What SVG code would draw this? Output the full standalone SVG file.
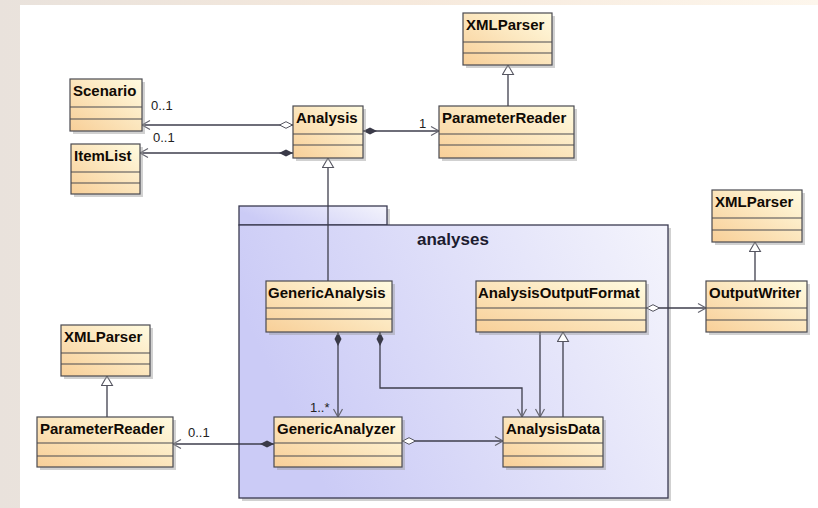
<svg xmlns="http://www.w3.org/2000/svg" width="818" height="508" viewBox="0 0 818 508">
<defs>
<linearGradient id="bg" x1="0" y1="0" x2="1" y2="0">
<stop offset="0" stop-color="#e9e2dc"/><stop offset="0.5" stop-color="#f6e9dc"/><stop offset="1" stop-color="#fdf6ec"/>
</linearGradient>
<linearGradient id="nodeFill" x1="0" y1="1" x2="1" y2="0">
<stop offset="0" stop-color="#f8cf98"/><stop offset="1" stop-color="#fffbe0"/>
</linearGradient>
<linearGradient id="pkgFill" x1="0" y1="0.3" x2="1" y2="0">
<stop offset="0" stop-color="#cbcbf6"/><stop offset="1" stop-color="#f4f4fc"/>
</linearGradient>
<marker id="fdia" markerWidth="16" markerHeight="10" refX="0" refY="5" orient="auto" markerUnits="userSpaceOnUse">
<path d="M0,5 L7,1.5 L14,5 L7,8.5 Z" fill="#3a3a48"/>
</marker>
<marker id="odia" markerWidth="16" markerHeight="10" refX="0" refY="5" orient="auto" markerUnits="userSpaceOnUse">
<path d="M0.5,5 L7,1.7 L13.5,5 L7,8.3 Z" fill="#ffffff" stroke="#555560" stroke-width="1"/>
</marker>
<marker id="arr" markerWidth="12" markerHeight="12" refX="10" refY="6" orient="auto" markerUnits="userSpaceOnUse">
<path d="M2,1.5 L10,6 L2,10.5" fill="none" stroke="#666670" stroke-width="1.2"/>
</marker>
<marker id="tri" markerWidth="14" markerHeight="14" refX="10" refY="6" orient="auto" markerUnits="userSpaceOnUse">
<path d="M10,6 L0.5,0.5 L0.5,11.5 Z" fill="#ffffff" stroke="#555560" stroke-width="1.1"/>
</marker>
</defs>
<style>
.box{fill:url(#nodeFill);stroke:#4a4a50;stroke-width:1.2}
.sh{fill:#9a9a9a;opacity:0.45}
.sep{stroke:#4a4a50;stroke-width:1.1}
.name{font-family:"Liberation Sans",Arial,sans-serif;font-weight:bold;font-size:15px;fill:#100a04}
.mult{font-family:"Liberation Sans",Arial,sans-serif;font-size:13px;fill:#222}
.conn{fill:none;stroke:#3e3e4c;stroke-width:1.3}
.pkg{fill:url(#pkgFill);stroke:#3a3a50;stroke-width:1.3}
</style>
<rect x="0" y="0" width="818" height="508" fill="url(#bg)"/>
<rect x="20" y="5" width="798" height="503" fill="#ffffff"/>

<g id="pkg-analyses">
<rect x="242" y="209" width="148" height="19" class="sh"/>
<rect x="242" y="228" width="429" height="273" class="sh"/>
<rect x="239" y="206" width="148" height="19" class="pkg"/>
<rect x="239" y="225" width="429" height="273" class="pkg"/>
<text x="417" y="245" font-family="'Liberation Sans',Arial,sans-serif" font-weight="bold" font-size="17" fill="#1c1c30">analyses</text>
</g>

<g id="connectors">
<path class="conn" d="M293,125 L142,125" marker-start="url(#odia)" marker-end="url(#arr)"/>
<path class="conn" d="M293,153 L140,153" marker-start="url(#fdia)" marker-end="url(#arr)"/>
<path class="conn" d="M363,131 L439,131" marker-start="url(#fdia)" marker-end="url(#arr)"/>
<path class="conn" d="M508,106 L508,65" marker-end="url(#tri)"/>
<path class="conn" d="M328,281 L328,158" marker-end="url(#tri)"/>
<path class="conn" d="M755,281 L755,242" marker-end="url(#tri)"/>
<path class="conn" d="M646,308 L706,308" marker-start="url(#odia)" marker-end="url(#arr)"/>
<path class="conn" d="M338,332 L338,417" marker-start="url(#fdia)" marker-end="url(#arr)"/>
<path class="conn" d="M380,332 L380,388 L522,388 L522,417" marker-start="url(#fdia)" marker-end="url(#arr)"/>
<path class="conn" d="M540,332 L540,417" marker-end="url(#arr)"/>
<path class="conn" d="M563,417 L563,332" marker-end="url(#tri)"/>
<path class="conn" d="M402,441 L503,441" marker-start="url(#odia)" marker-end="url(#arr)"/>
<path class="conn" d="M274,444 L173,444" marker-start="url(#fdia)" marker-end="url(#arr)"/>
<path class="conn" d="M107,417 L107,376" marker-end="url(#tri)"/>
<text class="mult" x="151" y="110">0..1</text>
<text class="mult" x="153" y="142">0..1</text>
<text class="mult" x="419" y="128">1</text>
<text class="mult" x="310" y="412">1..*</text>
<text class="mult" x="188" y="437">0..1</text>
</g>

<g id="scenario">
<rect x="73" y="82" width="72" height="52" class="sh"/>
<rect x="70" y="79" width="72" height="52" class="box"/>
<line x1="70" y1="107" x2="142" y2="107" class="sep"/><line x1="70" y1="119" x2="142" y2="119" class="sep"/>
<text x="73" y="96" class="name">Scenario</text>
</g>
<g id="itemlist">
<rect x="74" y="147" width="69" height="50" class="sh"/>
<rect x="71" y="144" width="69" height="50" class="box"/>
<line x1="71" y1="172" x2="140" y2="172" class="sep"/><line x1="71" y1="183" x2="140" y2="183" class="sep"/>
<text x="74" y="161" class="name">ItemList</text>
</g>
<g id="analysis">
<rect x="296" y="109" width="70" height="52" class="sh"/>
<rect x="293" y="106" width="70" height="52" class="box"/>
<line x1="293" y1="134" x2="363" y2="134" class="sep"/><line x1="293" y1="145" x2="363" y2="145" class="sep"/>
<text x="296" y="123" class="name">Analysis</text>
</g>
<g id="xmlparser-top">
<rect x="466" y="16" width="89" height="52" class="sh"/>
<rect x="463" y="13" width="89" height="52" class="box"/>
<line x1="463" y1="42" x2="552" y2="42" class="sep"/><line x1="463" y1="53" x2="552" y2="53" class="sep"/>
<text x="466" y="30" class="name">XMLParser</text>
</g>
<g id="parameterreader-top">
<rect x="442" y="109" width="135" height="52" class="sh"/>
<rect x="439" y="106" width="135" height="52" class="box"/>
<line x1="439" y1="134" x2="574" y2="134" class="sep"/><line x1="439" y1="145" x2="574" y2="145" class="sep"/>
<text x="442" y="123" class="name">ParameterReader</text>
</g>
<g id="xmlparser-right">
<rect x="715" y="193" width="90" height="52" class="sh"/>
<rect x="712" y="190" width="90" height="52" class="box"/>
<line x1="712" y1="218" x2="802" y2="218" class="sep"/><line x1="712" y1="230" x2="802" y2="230" class="sep"/>
<text x="715" y="207" class="name">XMLParser</text>
</g>
<g id="outputwriter">
<rect x="709" y="284" width="101" height="51" class="sh"/>
<rect x="706" y="281" width="101" height="51" class="box"/>
<line x1="706" y1="308" x2="807" y2="308" class="sep"/><line x1="706" y1="320" x2="807" y2="320" class="sep"/>
<text x="709" y="298" class="name">OutputWriter</text>
</g>
<g id="genericanalysis">
<rect x="269" y="284" width="126" height="51" class="sh"/>
<rect x="266" y="281" width="126" height="51" class="box"/>
<line x1="266" y1="308" x2="392" y2="308" class="sep"/><line x1="266" y1="319" x2="392" y2="319" class="sep"/>
<text x="268" y="298" class="name">GenericAnalysis</text>
</g>
<g id="analysisoutputformat">
<rect x="479" y="284" width="170" height="51" class="sh"/>
<rect x="476" y="281" width="170" height="51" class="box"/>
<line x1="476" y1="308" x2="646" y2="308" class="sep"/><line x1="476" y1="320" x2="646" y2="320" class="sep"/>
<text x="478" y="298" class="name">AnalysisOutputFormat</text>
</g>
<g id="xmlparser-left">
<rect x="64" y="328" width="89" height="51" class="sh"/>
<rect x="61" y="325" width="89" height="51" class="box"/>
<line x1="61" y1="353" x2="150" y2="353" class="sep"/><line x1="61" y1="364" x2="150" y2="364" class="sep"/>
<text x="64" y="342" class="name">XMLParser</text>
</g>
<g id="parameterreader-bottom">
<rect x="40" y="420" width="136" height="50" class="sh"/>
<rect x="37" y="417" width="136" height="50" class="box"/>
<line x1="37" y1="443" x2="173" y2="443" class="sep"/><line x1="37" y1="456" x2="173" y2="456" class="sep"/>
<text x="40" y="434" class="name">ParameterReader</text>
</g>
<g id="genericanalyzer">
<rect x="277" y="420" width="128" height="50" class="sh"/>
<rect x="274" y="417" width="128" height="50" class="box"/>
<line x1="274" y1="443" x2="402" y2="443" class="sep"/><line x1="274" y1="456" x2="402" y2="456" class="sep"/>
<text x="277" y="434" class="name">GenericAnalyzer</text>
</g>
<g id="analysisdata">
<rect x="506" y="420" width="100" height="50" class="sh"/>
<rect x="503" y="417" width="100" height="50" class="box"/>
<line x1="503" y1="443" x2="603" y2="443" class="sep"/><line x1="503" y1="456" x2="603" y2="456" class="sep"/>
<text x="506" y="434" class="name">AnalysisData</text>
</g>
</svg>
